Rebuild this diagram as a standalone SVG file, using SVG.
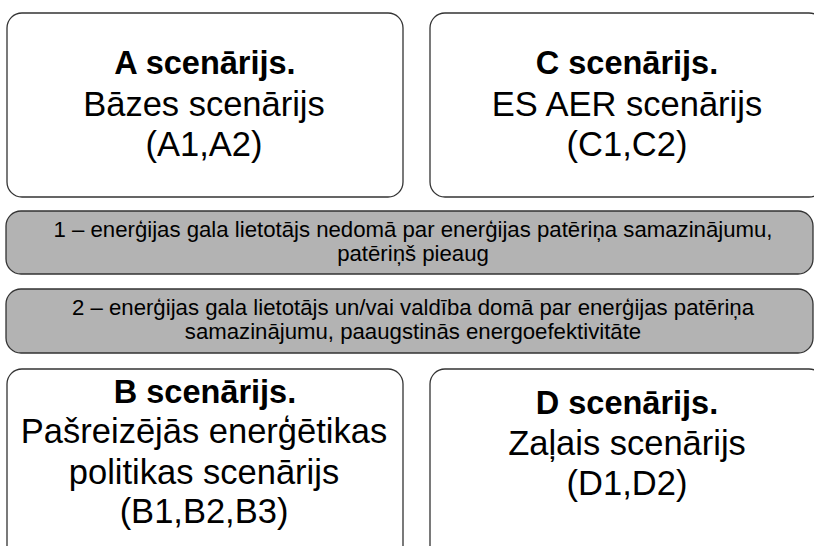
<svg xmlns="http://www.w3.org/2000/svg" width="814" height="546" viewBox="0 0 814 546">
<style>
.box{fill:#ffffff;stroke:#333333;stroke-width:1.3}
.bar{fill:#b3b3b3;stroke:#333333;stroke-width:1.3}
text{font-family:"Liberation Sans",Arial,sans-serif;fill:#000000;text-anchor:middle}
.t{font-weight:bold;font-size:32.5px}
.s{font-size:34.5px}
.b{font-size:22.2px}
</style>
<rect x="0" y="0" width="814" height="546" fill="#ffffff"/>
<g id="nodeA">
<rect class="box" x="7" y="13" width="396" height="184" rx="15" ry="15"/>
<text class="t" x="205" y="74">A scenārijs.</text>
<text class="s" x="204" y="116">Bāzes scenārijs</text>
<text class="s" x="204" y="156">(A1,A2)</text>
</g>
<g id="nodeC">
<rect class="box" x="430" y="13" width="394" height="184" rx="15" ry="15"/>
<text class="t" x="627" y="74">C scenārijs.</text>
<text class="s" x="627" y="116">ES AER scenārijs</text>
<text class="s" x="627" y="156">(C1,C2)</text>
</g>
<g id="bar1">
<rect class="bar" x="6" y="211" width="807" height="63" rx="15" ry="15"/>
<text class="b" x="413" y="237">1 – enerģijas gala lietotājs nedomā par enerģijas patēriņa samazinājumu,</text>
<text class="b" x="413" y="261">patēriņš pieaug</text>
</g>
<g id="bar2">
<rect class="bar" x="6" y="289" width="807" height="64" rx="15" ry="15"/>
<text class="b" x="413" y="315">2 – enerģijas gala lietotājs un/vai valdība domā par enerģijas patēriņa</text>
<text class="b" x="413" y="339">samazinājumu, paaugstinās energoefektivitāte</text>
</g>
<g id="nodeB">
<rect class="box" x="7" y="369" width="396" height="200" rx="15" ry="15"/>
<text class="t" x="205" y="403">B scenārijs.</text>
<text class="s" x="204" y="443">Pašreizējās enerģētikas</text>
<text class="s" x="204" y="484">politikas scenārijs</text>
<text class="s" x="204" y="523">(B1,B2,B3)</text>
</g>
<g id="nodeD">
<rect class="box" x="430" y="369" width="394" height="200" rx="15" ry="15"/>
<text class="t" x="627" y="414">D scenārijs.</text>
<text class="s" x="627" y="455">Zaļais scenārijs</text>
<text class="s" x="627" y="495">(D1,D2)</text>
</g>
<g id="connectors"></g>
</svg>
